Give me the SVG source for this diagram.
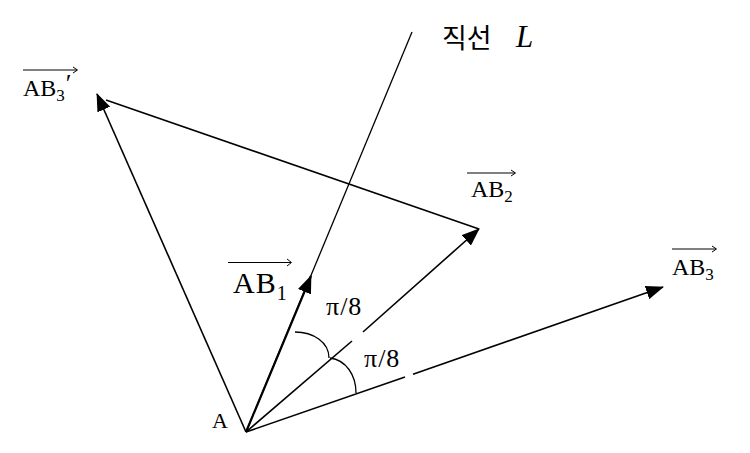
<svg xmlns="http://www.w3.org/2000/svg" width="750" height="453" viewBox="0 0 750 453">
<style>
.ln{fill:none;stroke:#000;stroke-width:1.6;stroke-linecap:butt}
.thin{fill:none;stroke:#000;stroke-width:1.3}
.ov{fill:none;stroke:#000;stroke-width:1}
.t{font-family:"Liberation Serif","Noto Sans CJK KR",serif;fill:#000}
</style>
<defs>
<marker id="ah" viewBox="0 0 18 14" refX="17" refY="7" markerWidth="18" markerHeight="14" markerUnits="userSpaceOnUse" orient="auto">
<path d="M0,0 L18,7 L0,14 Z" fill="#000"/>
</marker>
</defs>
<rect width="750" height="453" fill="#fff"/>
<g id="connectors">
<line id="lineL" class="thin" x1="246" y1="432" x2="412" y2="32"/>
<line id="AB1" class="ln" style="stroke-width:2.2" x1="246" y1="432" x2="311" y2="276" marker-end="url(#ah)"/>
<line class="ln" x1="246" y1="432" x2="352" y2="341"/>
<line id="AB2" class="ln" x1="363" y1="332" x2="479" y2="229" marker-end="url(#ah)"/>
<line class="ln" x1="246" y1="432" x2="405" y2="377"/>
<line id="AB3" class="ln" x1="413" y1="374.2" x2="663" y2="287" marker-end="url(#ah)"/>
<line id="AB3p" class="ln" x1="246" y1="432" x2="97" y2="94" marker-end="url(#ah)"/>
<line id="B2B3p" class="ln" x1="479" y1="229" x2="106" y2="100"/>
<path id="arc1" class="thin" d="M295,332 C313,332 329,342 329,358"/>
<path id="arc2" class="thin" d="M330,358 C346,360 356,375 356,393"/>
</g>
<g id="label-L">
<text class="t" x="442" y="48" font-size="27">직선</text>
<text class="t" x="516" y="47" font-size="31" font-style="italic">L</text>
</g>
<g id="label-A"><text class="t" x="212" y="428" font-size="22">A</text></g>
<g id="label-AB1">
<path class="ov" d="M228,262.5 H291 M287,259 L291.5,262.5 L287,266"/>
<text class="t" x="233" y="293" font-size="30" letter-spacing="1">AB<tspan font-size="20" dy="7">1</tspan></text>
</g>
<g id="label-AB2">
<path class="ov" d="M467,173 H515 M511,170 L515.5,173 L511,176"/>
<text class="t" x="471" y="197" font-size="24">AB<tspan font-size="17" dy="5">2</tspan></text>
</g>
<g id="label-AB3">
<path class="ov" d="M672,249 H716 M712,246 L716.5,249 L712,252"/>
<text class="t" x="672" y="275" font-size="24">AB<tspan font-size="17" dy="5">3</tspan></text>
</g>
<g id="label-AB3p">
<path class="ov" d="M23,70 H77 M73,67 L77.5,70 L73,73"/>
<text class="t" x="23" y="96" font-size="24">AB<tspan font-size="17" dy="5">3</tspan><tspan font-size="26" dy="-9" dx="1">′</tspan></text>
</g>
<g id="label-angle1"><text class="t" x="326" y="315" font-size="26" letter-spacing="1">π/8</text></g>
<g id="label-angle2"><text class="t" x="364" y="367" font-size="26" letter-spacing="1">π/8</text></g>
</svg>
